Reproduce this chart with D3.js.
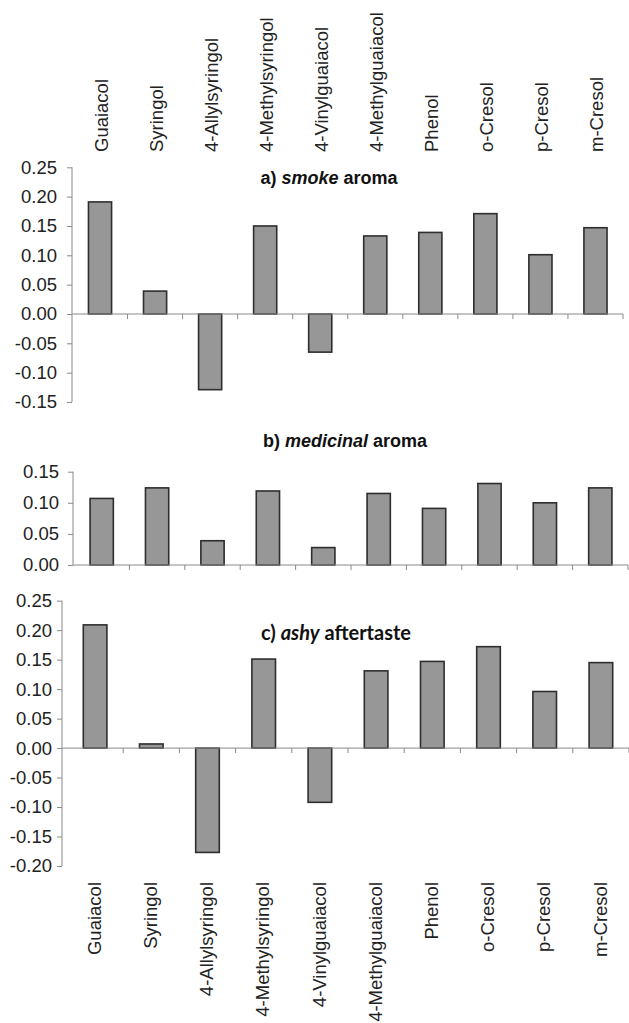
<!DOCTYPE html>
<html>
<head>
<meta charset="utf-8">
<script src="https://cdn.jsdelivr.net/npm/d3@7"></script>
<style>
  html, body { margin: 0; padding: 0; background: #fff; }
  svg { display: block; }
</style>
</head>
<body>
<svg id="chart" width="629" height="1023"></svg>
<script>
const categories = ["Guaiacol", "Syringol", "4-Allylsyringol", "4-Methylsyringol", "4-Vinylguaiacol",
  "4-Methylguaiacol", "Phenol", "o-Cresol", "p-Cresol", "m-Cresol"];
const smokeAroma     = [0.191, 0.039, -0.129, 0.150, -0.065, 0.133, 0.139, 0.171, 0.101, 0.147];
const medicinalAroma = [0.107, 0.124, 0.039, 0.119, 0.028, 0.115, 0.091, 0.131, 0.100, 0.124];
const ashyAftertaste = [0.209, 0.007, -0.177, 0.151, -0.092, 0.131, 0.147, 0.172, 0.096, 0.145];
const ticksA = [0.25, 0.20, 0.15, 0.10, 0.05, 0.00, -0.05, -0.10, -0.15];
const ticksB = [0.15, 0.10, 0.05, 0.00];
const ticksC = [0.25, 0.20, 0.15, 0.10, 0.05, 0.00, -0.05, -0.10, -0.15, -0.20];

const svg = d3.select("#chart");
const AX = "#8a8a8a";
const fmt = v => d3.format(".2f")(v).replace("\u2212", "-");

function panel(values, ticks, cfg) {
  const g = svg.append("g");
  const x = d3.scaleBand().domain(categories).range([cfg.x0, cfg.x1])
    .paddingInner(0.58).paddingOuter(0.29);
  const y = d3.scaleLinear().domain([ticks[ticks.length - 1], ticks[0]]).range([cfg.yBot, cfg.yTop]);
  const step = x.step();
  const off = (step - x.bandwidth()) / 2;

  // y axis
  const yAxis = d3.axisLeft(y).tickValues(ticks).tickFormat(fmt).tickSize(5).tickPadding(cfg.pad);
  const ga = g.append("g").attr("transform", `translate(${cfg.yAxisX},0)`).call(yAxis);
  ga.select(".domain").attr("stroke", AX).attr("d", `M0,${y(ticks[0])}V${y(ticks[ticks.length-1])}`);
  ga.selectAll(".tick line").attr("stroke", AX);
  ga.selectAll(".tick text").attr("fill", "#222").style("font-family", "'Liberation Sans', Arial, sans-serif")
    .style("font-size", "18.5px");

  // bars
  g.selectAll("rect.bar").data(values).join("rect")
    .attr("class", "bar")
    .attr("x", (d, i) => x(categories[i]))
    .attr("width", x.bandwidth())
    .attr("y", d => y(Math.max(0, d)))
    .attr("height", d => Math.abs(y(d) - y(0)))
    .attr("fill", "#979797").attr("stroke", "#2e2e2e").attr("stroke-width", 1.6);

  // x axis at zero
  const y0 = y(0);
  g.append("line").attr("x1", cfg.yAxisX).attr("x2", cfg.x1).attr("y1", y0).attr("y2", y0)
    .attr("stroke", AX).attr("stroke-width", 1);
  const bounds = categories.map(c => x(c) - off).slice(1).concat([cfg.x1]);
  g.selectAll("line.xt").data(bounds).join("line").attr("class", "xt")
    .attr("x1", d => d).attr("x2", d => d).attr("y1", y0).attr("y2", y0 + 5)
    .attr("stroke", AX).attr("stroke-width", 1);
  return x;
}

const xA = panel(smokeAroma, ticksA, {x0: 72.5, x1: 623, yTop: 167.3, yBot: 402, yAxisX: 72, pad: 10});
const xB = panel(medicinalAroma, ticksB, {x0: 74, x1: 628, yTop: 471.7, yBot: 565, yAxisX: 73, pad: 9});
const xC = panel(ashyAftertaste, ticksC, {x0: 67, x1: 629, yTop: 600.7, yBot: 866, yAxisX: 62, pad: 5});

// category labels (top, aligned with panel a; bottom, aligned with panel c)
const labFont = "'Liberation Sans', Arial, sans-serif";
svg.append("g").selectAll("text").data(categories).join("text")
  .attr("transform", d => `translate(${xA(d) + xA.bandwidth() / 2 + 1},152) rotate(-90)`)
  .attr("dy", "0.36em").attr("text-anchor", "start")
  .style("font-family", labFont).style("font-size", "18.5px").attr("fill", "#222")
  .text(d => d);
svg.append("g").selectAll("text").data(categories).join("text")
  .attr("transform", d => `translate(${xC(d) + xC.bandwidth() / 2 - 1},882) rotate(-90)`)
  .attr("dy", "0.36em").attr("text-anchor", "end")
  .style("font-family", labFont).style("font-size", "18.5px").attr("fill", "#222")
  .text(d => d);

// titles
function title(x, y, parts, font, size) {
  const t = svg.append("text").attr("x", x).attr("y", y).attr("text-anchor", "middle")
    .style("font-family", font).style("font-size", size).style("font-weight", "bold").attr("fill", "#111");
  parts.forEach(p => t.append("tspan").style("font-style", p[1] ? "italic" : "normal").text(p[0]));
}
title(329, 184, [["a) ", false], ["smoke", true], [" aroma", false]], labFont, "18px");
title(345, 447, [["b) ", false], ["medicinal", true], [" aroma", false]], labFont, "18px");
title(336, 640, [["c) ", false], ["ashy", true], [" aftertaste", false]], "Lato, 'Open Sans', sans-serif", "20px");
</script>
</body>
</html>
